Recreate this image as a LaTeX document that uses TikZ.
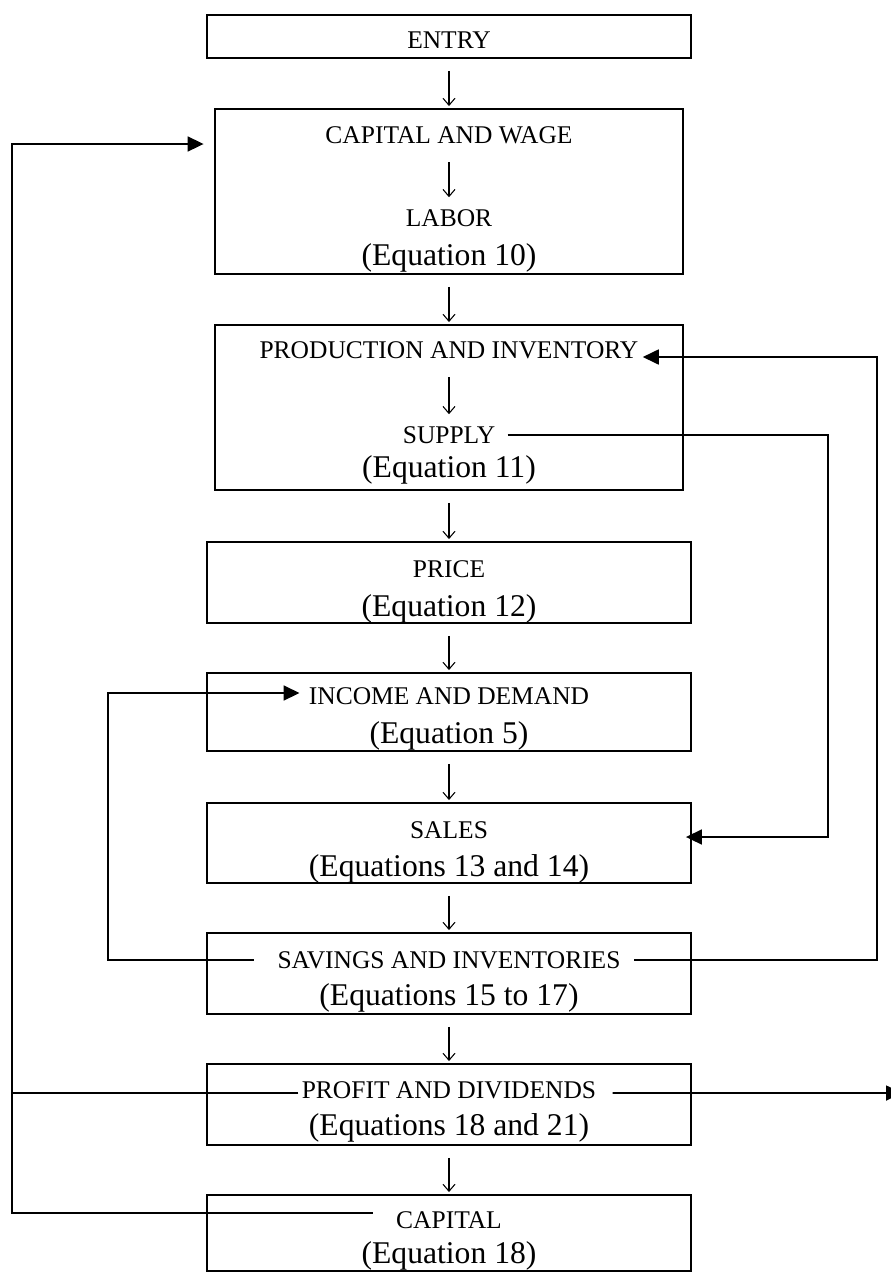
\documentclass[tikz,border=0pt]{standalone}
\usepackage{fontspec}
\setmainfont{Liberation Serif}
\usetikzlibrary{arrows.meta,positioning}

\begin{document}
\begin{tikzpicture}[
    x=0.02cm, y=-0.02cm,
    >={Straight Barb[length=0.14cm, width=0.24cm]},
    flowBox/.style={draw, line width=1.1pt, minimum width=9.68cm, inner sep=0pt},
    labelTxt/.style={font=\fontsize{14.5}{17}\selectfont, inner sep=0pt, text height=9.6pt, text depth=0pt},
    eqTxt/.style={font=\fontsize{18}{21}\selectfont, inner sep=0pt},
    stepArrow/.style={->, line width=0.6pt, shorten <=0.24cm, shorten >=0.04cm},
    innerArrow/.style={->, line width=0.6pt, shorten <=0.37cm, shorten >=0.24cm},
    loopLine/.style={line width=1pt},
    loopArrow/.style={loopLine, -{Triangle[length=0.32cm, width=0.3cm]}}
]
    \useasboundingbox (0,0) rectangle (891,1272);

    % ---------------- boxes ----------------
    \node[flowBox, minimum height=0.86cm] (entry) at (449,36.5) {};
    \node[flowBox, minimum width=9.38cm, minimum height=3.3cm] (capwage) at (449,191.5) {};
    \node[flowBox, minimum width=9.36cm, minimum height=3.3cm] (prod) at (449,407.5) {};
    \node[flowBox, minimum height=1.62cm] (price) at (449,582.5) {};
    \node[flowBox, minimum height=1.56cm] (income) at (449,712) {};
    \node[flowBox, minimum height=1.6cm] (sales) at (449,843) {};
    \node[flowBox, minimum height=1.62cm] (savings) at (449,973.5) {};
    \node[flowBox, minimum height=1.62cm] (profit) at (449,1104.5) {};
    \node[flowBox, minimum height=1.52cm] (capital) at (449,1233) {};

    % ---------------- texts ----------------
    \node[labelTxt] (entryTxt) at (449,40) {ENTRY};

    \node[labelTxt] (capwageTxt) at (449,135) {CAPITAL AND WAGE};
    \node[labelTxt] (laborTxt) at (449,218) {LABOR};
    \node[eqTxt] (laborEq) at (449,258) {(Equation 10)};

    \node[labelTxt] (prodTxt) at (449,350) {PRODUCTION AND INVENTORY};
    \node[labelTxt] (supTxt) at (449,435) {SUPPLY};
    \node[eqTxt] (supEq) at (449,470) {(Equation 11)};

    \node[labelTxt] (priceTxt) at (449,569) {PRICE};
    \node[eqTxt] (priceEq) at (449,609) {(Equation 12)};

    \node[labelTxt] (incTxt) at (449,696) {INCOME AND DEMAND};
    \node[eqTxt] (incEq) at (449,736) {(Equation 5)};

    \node[labelTxt] (salesTxt) at (449,830) {SALES};
    \node[eqTxt] (salesEq) at (449,869) {(Equations 13 and 14)};

    \node[labelTxt] (savTxt) at (449,960) {SAVINGS AND INVENTORIES};
    \node[eqTxt] (savEq) at (449,998) {(Equations 15 to 17)};

    \node[labelTxt] (profTxt) at (449,1090) {PROFIT AND DIVIDENDS};
    \node[eqTxt] (profEq) at (449,1128) {(Equations 18 and 21)};

    \node[labelTxt] (capitalTxt) at (449,1220) {CAPITAL};
    \node[eqTxt] (capitalEq) at (449,1256) {(Equation 18)};

    % ---------------- main flow ----------------
    \draw[stepArrow] (entry.south) -- (capwage.north);
    \draw[stepArrow] (capwage.south) -- (prod.north);
    \draw[stepArrow] (prod.south) -- (price.north);
    \draw[stepArrow] (price.south) -- (income.north);
    \draw[stepArrow] (income.south) -- (sales.north);
    \draw[stepArrow] (sales.south) -- (savings.north);
    \draw[stepArrow] (savings.south) -- (profit.north);
    \draw[stepArrow] (profit.south) -- (capital.north);

    \draw[innerArrow] (capwageTxt.south) -- (laborTxt.north);
    \draw[innerArrow] (prodTxt.south) -- (supTxt.north);

    % ---------------- feedback loops ----------------
    \coordinate (railFar) at (12,144);
    \coordinate (railNear) at (108,693);
    \coordinate (railMid) at (828,837);
    \coordinate (railRight) at (877,357);
    \coordinate (exitRight) at (902,1093);

    \draw[loopArrow, shorten <=0.27cm, shorten >=0.08cm]
        (savTxt.east) -| (railRight) -- (prodTxt.east |- railRight);
    \draw[loopArrow, shorten <=0.47cm, shorten >=0.18cm]
        (savTxt.west) -| (railNear) -- (incTxt.west |- railNear);
    \draw[loopArrow, shorten <=0.24cm, shorten >=-0.12cm]
        (supTxt.east) -| (railMid) -- (sales.east |- railMid);

    \draw[loopLine, shorten <=0.06cm]
        ([yshift=-0.06cm]profTxt.west) -- ([yshift=-0.06cm]profTxt.west -| railFar);
    \draw[loopArrow, shorten <=0.32cm]
        ([yshift=-0.06cm]profTxt.east) -- (exitRight);
    \draw[loopArrow, shorten <=0.46cm, shorten >=0.2cm]
        ([yshift=0.14cm]capitalTxt.west) -| (railFar) -- (capwage.west |- railFar);

\end{tikzpicture}
\end{document}
